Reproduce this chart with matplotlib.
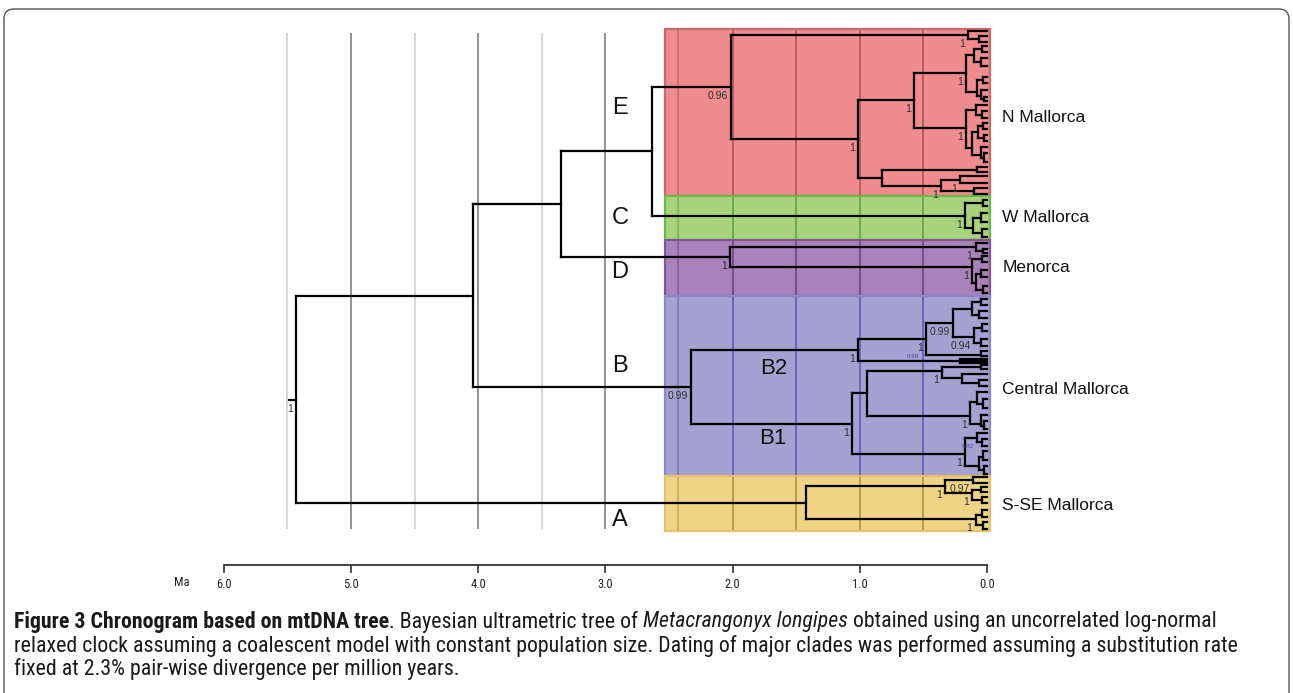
"""
Chronogram of Metacrangonyx longipes (mtDNA), redrawn with matplotlib.
Output: out.png, 1293x693 px.
"""
from collections import defaultdict

import matplotlib
matplotlib.use("Agg")
import matplotlib.pyplot as plt
from matplotlib import font_manager
from matplotlib.collections import LineCollection
from matplotlib.patches import Rectangle, FancyBboxPatch

W, H = 1293, 693

# ---- tree data: (node, parent, age in Ma, row) ; rows count tip slots from the top
backbone_nodes = [
    ("root", None, 5.43, 92.5),
    ("n473", "root", 4.04, 66.5),
    ("nA", "root", 1.42, 118.25),
    ("n561", "n473", 3.35, 43.5),
    ("nB", "n473", 2.33, 89.25),
    ("n652", "n561", 2.63, 30.25),
    ("nD", "n561", 2.02, 56.75),
    ("nE", "n652", 2.01, 14.25),
    ("nC", "n652", 0.17, 46.5),
]
ROOT_STEM_AGE = 5.49

clade_E_nodes = [
    ("e1", "nE", 0.15, 1.25),
    ("e1b", "e1", 0.06, 2.25),
    ("e2", "nE", 1.01, 27.25),
    ("e2a", "e2", 0.57, 17.5),
    ("e2a1", "e2a", 0.165, 10.75),
    ("e2a1a", "e2a1", 0.10, 6.25),
    ("e2a1a1", "e2a1a", 0.04, 4.75),
    ("e2a1a2", "e2a1a", 0.05, 8.0),
    ("e2a1b", "e2a1", 0.08, 15.5),
    ("e2a1b1", "e2a1b", 0.03, 12.5),
    ("e2a1b2", "e2a1b", 0.05, 16.5),
    ("e2a1b2a", "e2a1b2", 0.02, 17.25),
    ("e2a2", "e2a", 0.165, 24.5),
    ("e2a2a", "e2a2", 0.09, 20.0),
    ("e2a2a1", "e2a2a", 0.04, 21.25),
    ("e2a2b", "e2a2", 0.12, 29.5),
    ("e2a2b1", "e2a2b", 0.07, 25.5),
    ("e2a2b1a", "e2a2b1", 0.03, 24.0),
    ("e2a2b1b", "e2a2b1", 0.02, 27.0),
    ("e2a2b2", "e2a2b", 0.05, 31.25),
    ("e2a2b2a", "e2a2b2", 0.02, 32.0),
    ("e2b", "e2", 0.825, 37.0),
    ("e2b1", "e2b", 0.08, 35.0),
    ("e2b2", "e2b", 0.36, 39.0),
    ("e2b2a", "e2b2", 0.21, 37.5),
    ("e2b2b", "e2b2", 0.10, 40.25),
]
clade_E_tips = [
    ("e1", 0.25), ("e1b", 1.5), ("e1b", 3.0),
    ("e2a1a1", 4.0), ("e2a1a1", 5.5), ("e2a1a2", 7.0), ("e2a1a2", 9.0),
    ("e2a1b1", 11.75), ("e2a1b1", 13.25), ("e2a1b2", 15.0),
    ("e2a1b2a", 16.75), ("e2a1b2a", 17.75),
    ("e2a2a", 18.75), ("e2a2a1", 20.25), ("e2a2a1", 22.0),
    ("e2a2b1a", 23.25), ("e2a2b1a", 24.75), ("e2a2b1b", 26.25), ("e2a2b1b", 27.75),
    ("e2a2b2", 29.25), ("e2a2b2a", 30.75), ("e2a2b2a", 33.0),
    ("e2b1", 34.25), ("e2b1", 35.5), ("e2b2a", 36.5), ("e2b2a", 38.25),
    ("e2b2b", 39.5), ("e2b2b", 41.0),
]

clade_C_nodes = [
    ("c1", "nC", 0.03, 43.25),
    ("c2", "nC", 0.11, 49.5),
    ("c2a", "c2", 0.05, 47.0),
    ("c2b", "c2", 0.04, 50.75),
]
clade_C_tips = [
    ("c1", 42.5), ("c1", 44.0), ("c2a", 45.75), ("c2a", 48.0),
    ("c2b", 49.75), ("c2b", 51.75),
]

clade_D_nodes = [
    ("d1", "nD", 0.09, 54.25),
    ("d1a", "d1", 0.03, 55.25),
    ("d2", "nD", 0.12, 59.25),
    ("d2a", "d2", 0.04, 57.25),
    ("d2b", "d2", 0.09, 63.25),
    ("d2b1", "d2b", 0.05, 61.0),
    ("d2b2", "d2b", 0.03, 65.0),
]
clade_D_tips = [
    ("d1", 53.25), ("d1a", 54.75), ("d1a", 55.75),
    ("d2a", 56.5), ("d2a", 58.0), ("d2b1", 60.0), ("d2b1", 61.75),
    ("d2b2", 64.0), ("d2b2", 65.75),
]

clade_B_nodes = [
    ("b2", "nB", 1.01, 80.0),
    ("b2a", "b2", 0.48, 77.25),
    ("b2a1", "b2a", 0.27, 73.25),
    ("b2a1a", "b2a1", 0.12, 69.75),
    ("b2a1a1", "b2a1a", 0.05, 68.0),
    ("b2a1a2", "b2a1a", 0.06, 71.25),
    ("b2a1b", "b2a1", 0.10, 76.75),
    ("b2a1b1", "b2a1b", 0.04, 74.5),
    ("b2a1b2", "b2a1b", 0.05, 78.25),
    ("b2a2", "b2a", 0.05, 81.25),
    ("b2b", "b2", 0.21, 82.75),
    ("b1", "nB", 1.06, 98.5),
    ("b1a", "b1", 0.94, 90.75),
    ("b1a1", "b1a", 0.35, 85.25),
    ("b1a1a", "b1a1", 0.05, 84.25),
    ("b1a1b", "b1a1", 0.20, 87.0),
    ("b1a1b1", "b1a1b", 0.06, 88.25),
    ("b1a2", "b1a", 0.13, 96.5),
    ("b1a2a", "b1a2", 0.08, 93.0),
    ("b1a2a1", "b1a2a", 0.03, 93.5),
    ("b1a2b", "b1a2", 0.05, 98.5),
    ("b1a2b1", "b1a2b", 0.02, 99.0),
    ("b1b", "b1", 0.17, 106.0),
    ("b1b1", "b1b", 0.08, 102.0),
    ("b1b1a", "b1b1", 0.04, 103.0),
    ("b1b2", "b1b", 0.06, 109.0),
    ("b1b2a", "b1b2", 0.03, 106.75),
    ("b1b2b", "b1b2", 0.02, 110.0),
]
clade_B_tips = [
    ("b2a1a1", 67.25), ("b2a1a1", 68.75), ("b2a1a2", 70.25), ("b2a1a2", 72.0),
    ("b2a1b1", 73.5), ("b2a1b1", 75.25), ("b2a1b2", 77.25), ("b2a1b2", 79.0),
    ("b2a2", 80.25), ("b2a2", 81.5),
    ("b2b", 82.25), ("b2b", 82.75), ("b2b", 83.25),
    ("b1a1a", 83.75), ("b1a1a", 84.75), ("b1a1b", 86.0),
    ("b1a1b1", 87.5), ("b1a1b1", 89.0),
    ("b1a2a", 90.5), ("b1a2a1", 92.25), ("b1a2a1", 94.5),
    ("b1a2b", 96.25), ("b1a2b1", 97.75), ("b1a2b1", 99.75),
    ("b1b1", 100.75), ("b1b1a", 102.25), ("b1b1a", 104.0),
    ("b1b2a", 105.25), ("b1b2a", 107.5), ("b1b2b", 109.0), ("b1b2b", 111.0),
]

clade_A_nodes = [
    ("a1", "nA", 0.33, 114.0),
    ("a1a", "a1", 0.11, 112.5),
    ("a1b", "a1", 0.12, 115.75),
    ("a1b1", "a1b", 0.05, 115.0),
    ("a1b2", "a1b", 0.04, 117.5),
    ("a2", "nA", 0.09, 122.25),
    ("a2a", "a2", 0.04, 121.25),
    ("a2b", "a2", 0.03, 123.75),
]
clade_A_tips = [
    ("a1a", 111.75), ("a1a", 113.25), ("a1b1", 114.25), ("a1b1", 115.5),
    ("a1b2", 116.75), ("a1b2", 118.25), ("a2a", 120.0), ("a2a", 121.75),
    ("a2b", 123.0), ("a2b", 124.75),
]

# posterior probabilities: (node, label)
support_labels = [
    ("root", "1"), ("nE", "0.96"), ("e1", "1"), ("e2", "1"), ("e2a", "1"),
    ("e2a1", "1"), ("e2a2", "1"), ("e2b2", "1"), ("e2b2a", "1"),
    ("nC", "1"), ("nD", "1"), ("d1", "1"), ("d2", "1"),
    ("nB", "0.99"), ("b2", "1"), ("b2a", "1"), ("b2a1", "0.99"), ("b2a1b", "0.94"),
    ("b1a1", "1"), ("b1", "1"), ("b1a2", "1"), ("b1b", "1"),
    ("a1", "1"), ("a1a", "0.97"), ("a1b", "1"), ("a2", "1"),
]
tiny_labels = [("b2a", "0.98"), ("b1b1", "0.92")]

# coloured clade bands: (rows top, bottom, fill, edge, grid colour)
band_rows = [(-0.25, 41.5), (41.5, 52.5), (52.5, 66.5), (66.5, 111.5), (111.5, 125.25)]
band_fill = ["#F08C8E", "#A7D47B", "#A982BC", "#A5A2D2", "#F0D486"]
band_edge = ["#C86A6A", "#6DB84A", "#7E5690", "#8C88C6", "#E2C070"]
band_grid = ["#A65252", "#58A044", "#6A3F7E", "#5656B4", "#A88A44"]
BOX_AGES = (2.53, -0.025)

outer_grid_ages = [5.5, 5.0, 4.5, 4.0, 3.5, 3.0]
inner_grid_ages = [2.43, 2.0, 1.5, 1.0, 0.5]
GRID_ROWS = (0.75, 124.75)

clade_letters = ["E", "C", "D", "B", "A"]
clade_letter_rows = [19.5, 47.0, 60.5, 84.0, 122.5]
CLADE_LETTER_AGE = 2.885
subclade_letters = ["B2", "B1"]
subclade_rows = [84.75, 102.0]
SUBCLADE_AGE = 1.68
region_names = ["N Mallorca", "W Mallorca", "Menorca", "Central Mallorca", "S-SE Mallorca"]
region_rows = [22.0, 46.75, 59.5, 90.0, 118.75]
REGION_AGE = -0.12

scale_ticks = [6.0, 5.0, 4.0, 3.0, 2.0, 1.0, 0.0]

caption_lines = [
    [("Figure 3 Chronogram based on mtDNA tree", "bold", "normal"),
     (". Bayesian ultrametric tree of ", "normal", "normal"),
     ("Metacrangonyx longipes", "normal", "italic"),
     (" obtained using an uncorrelated log-normal", "normal", "normal")],
    [("relaxed clock assuming a coalescent model with constant population size. "
      "Dating of major clades was performed assuming a substitution rate", "normal", "normal")],
    [("fixed at 2.3% pair-wise divergence per million years.", "normal", "normal")],
]
caption_line_ends = [1280, 1240, 522]   # right end of each line in the reference

# axis mapping (age runs right to left)
AGE_LEFT, AGE_RIGHT = 7.759, -2.406
ROW_TOP, ROW_BOTTOM = -7.5, 165.75


def pick_font(names):
    for name in names:
        try:
            font_manager.findfont(font_manager.FontProperties(family=name),
                                  fallback_to_default=False)
            return name
        except ValueError:
            pass
    return "DejaVu Sans"


SANS = pick_font(["Liberation Sans", "Arial"])
NARROW = pick_font(["Liberation Sans Narrow", "Arial Narrow", "Roboto Condensed",
                    "Open Sans Condensed", "Liberation Sans"])


def build_tree():
    age, row, parent = {}, {}, {}
    children = defaultdict(list)
    for table in (backbone_nodes, clade_E_nodes, clade_C_nodes, clade_D_nodes,
                  clade_B_nodes, clade_A_nodes):
        for name, par, a, r in table:
            age[name], row[name], parent[name] = a, r, par
            if par is not None:
                children[par].append(name)
    k = 0
    for table in (clade_E_tips, clade_C_tips, clade_D_tips, clade_B_tips, clade_A_tips):
        for par, r in table:
            name = f"tip{k}"
            k += 1
            age[name], row[name], parent[name] = 0.0, r, par
            children[par].append(name)
    return age, row, parent, children


def tree_segments(age, row, parent, children):
    segs = []
    for name, par in parent.items():
        if par is None:
            segs.append([(ROOT_STEM_AGE, row[name]), (age[name], row[name])])
        else:
            segs.append([(age[par], row[name]), (age[name], row[name])])
    for name, kids in children.items():
        rows = [row[c] for c in kids]
        segs.append([(age[name], min(rows)), (age[name], max(rows))])
    return segs


def draw_runs(fig, x_px, y_px, runs, size, family, color):
    renderer = fig.canvas.get_renderer()
    x = x_px
    texts = []
    for text, weight, style in runs:
        t = fig.text(x / W, 1 - y_px / H, text, fontsize=size, family=family,
                     weight=weight, style=style, ha="left", va="center", color=color)
        x = t.get_window_extent(renderer).x1
        texts.append(t)
    return x, texts


def run_width(fig, runs, size, family):
    end, texts = draw_runs(fig, 14, 600, runs, size, family, "k")
    for t in texts:
        t.remove()
    return end - 14


def main():
    fig = plt.figure(figsize=(W / 100, H / 100), dpi=100)
    fig.patch.set_facecolor("white")

    ax = fig.add_axes([0, 0, 1, 1])
    ax.set_xlim(AGE_LEFT, AGE_RIGHT)
    ax.set_ylim(ROW_BOTTOM, ROW_TOP)
    ax.axis("off")

    # time grid outside the coloured box
    for a in outer_grid_ages:
        major = float(a).is_integer()
        ax.vlines(a, *GRID_ROWS, colors="#808080" if major else "#cfcfcf",
                  lw=1.2, zorder=1)

    # coloured clade bands with their own grid lines
    for (top, bottom), fc, ec, gc in zip(band_rows, band_fill, band_edge, band_grid):
        ax.add_patch(Rectangle((BOX_AGES[0], top), BOX_AGES[1] - BOX_AGES[0], bottom - top,
                               facecolor=fc, edgecolor=ec, lw=1.6, zorder=2))
        for a in inner_grid_ages:
            ax.vlines(a, top + 0.2, bottom - 0.2, colors=gc, lw=1.2,
                      alpha=0.55 if a == inner_grid_ages[0] else 0.9, zorder=3)

    # tree
    age, row, parent, children = build_tree()
    lc = LineCollection(tree_segments(age, row, parent, children), colors="black",
                        linewidths=1.6, capstyle="projecting", zorder=5)
    ax.add_collection(lc)

    for node, text in support_labels:
        if node == "nA":
            ax.annotate(text, (age[node], row[node]), xytext=(21, 0),
                        textcoords="offset pixels", ha="center", va="center",
                        fontsize=7.5, family=SANS, color="#303030", zorder=6)
        else:
            ax.annotate(text, (age[node], row[node]), xytext=(-3, -9),
                        textcoords="offset pixels", ha="right", va="center",
                        fontsize=7.5, family=SANS, color="#303030", zorder=6)
    for node, text in tiny_labels:
        off = (-13, -18) if node == "b2a" else (-3, -8)
        ax.annotate(text, (age[node], row[node]), xytext=off,
                    textcoords="offset pixels", ha="right" if node != "b2a" else "center",
                    va="center", fontsize=4.5, family=SANS, color="#4a4a8a", zorder=6)

    for letter, r in zip(clade_letters, clade_letter_rows):
        ax.text(CLADE_LETTER_AGE, r, letter, fontsize=17, family=SANS,
                ha="center", va="center", color="#111111", zorder=6)
    for letter, r in zip(subclade_letters, subclade_rows):
        ax.text(SUBCLADE_AGE, r, letter, fontsize=16, family=SANS,
                ha="center", va="center", color="#111111", zorder=6)
    for name, r in zip(region_names, region_rows):
        ax.text(REGION_AGE, r, name, fontsize=12.5, family=SANS,
                ha="left", va="center", color="#111111", zorder=6)

    # time scale bar
    span = AGE_LEFT - AGE_RIGHT
    x0 = (AGE_LEFT - scale_ticks[0]) / span
    x1 = (AGE_LEFT - scale_ticks[-1]) / span
    sax = fig.add_axes([x0, 1 - 565 / H, x1 - x0, 0.0001])
    sax.set_xlim(scale_ticks[0], scale_ticks[-1])
    sax.set_facecolor("none")
    for side in ("left", "right", "top"):
        sax.spines[side].set_visible(False)
    sax.spines["bottom"].set_color("#333333")
    sax.spines["bottom"].set_linewidth(1.3)
    sax.set_yticks([])
    sax.set_xticks(scale_ticks)
    sax.set_xticklabels([f"{t:.1f}" for t in scale_ticks], family=NARROW, fontsize=9)
    sax.tick_params(axis="x", direction="out", length=6, width=1.2, pad=3,
                    color="#333333", labelcolor="#222222")
    sax.annotate("Ma", (scale_ticks[0] + 0.33, 0), xycoords=("data", "axes fraction"),
                 xytext=(0, -17), textcoords="offset pixels", ha="center", va="center",
                 family=NARROW, fontsize=9, color="#222222", annotation_clip=False)

    # caption, sized so the two long lines stay within their reference widths
    size = 12.0
    for _ in range(3):
        size = min(size * (end - 14) / run_width(fig, runs, size, NARROW)
                   for runs, end in zip(caption_lines[:2], caption_line_ends[:2]))
    for runs, y in zip(caption_lines, [622, 646, 669]):
        draw_runs(fig, 14, y, runs, size, NARROW, "#1a1a1a")

    # rounded frame round the figure
    frame = FancyBboxPatch((0.04, -0.2), 12.85, 7.04, boxstyle="round,pad=0,rounding_size=0.1",
                           transform=fig.dpi_scale_trans, facecolor="none",
                           edgecolor="#555555", lw=1.0)
    fig.patches.append(frame)

    fig.savefig("out.png", dpi=100)
    plt.close(fig)


if __name__ == "__main__":
    main()
